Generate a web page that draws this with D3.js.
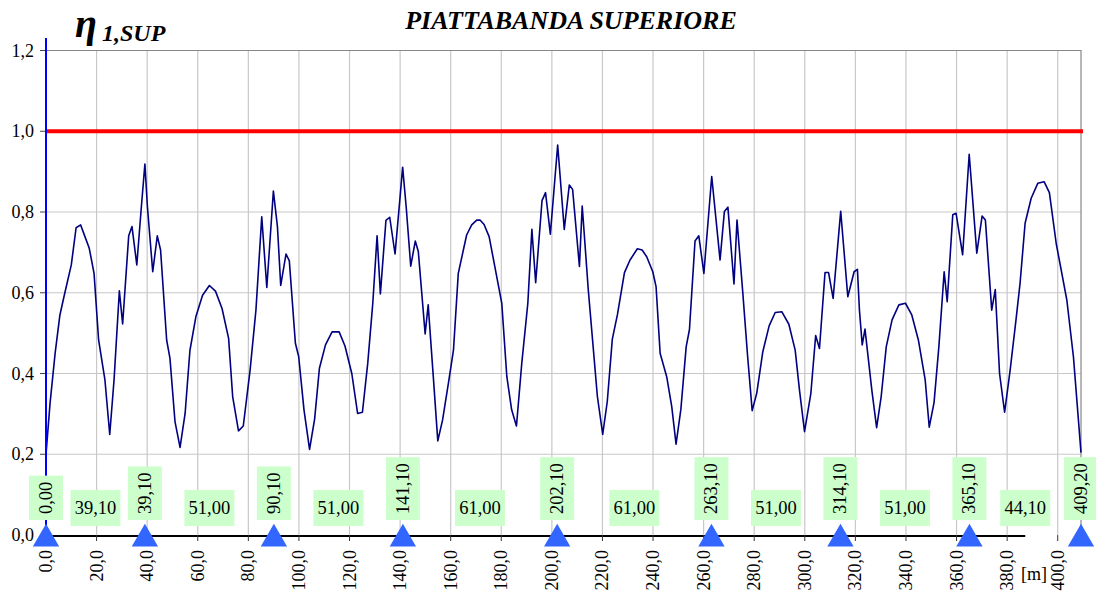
<!DOCTYPE html>
<html>
<head>
<meta charset="utf-8">
<script src="https://cdn.jsdelivr.net/npm/d3@7"></script>
<style>
  body { margin: 0; background: #fff; }
</style>
</head>
<body>
<svg id="chart"></svg>
<script>
var width = 1096,
    height = 594;
var FONT = "'Liberation Serif'";

// abscissa along the deck [m]
var xs = [0, 1.6, 3.6, 5.5, 7.1, 10.0, 11.9, 13.7, 15.4, 17.1, 19.0, 20.8, 23.3, 25.2, 26.9, 29.0, 30.3, 32.7, 34.0, 35.9,
  37.6, 39.1, 40.1, 42.2, 44.0, 45.3, 47.7, 49.0, 51.0, 53.0, 55.0, 56.9, 59.3, 61.9, 64.6, 67.0, 69.6, 72.2, 73.8, 76.1,
  78.0, 80.7, 83.0, 85.3, 87.3, 89.9, 91.5, 92.8, 94.9, 96.2, 98.6, 99.9, 102.0, 104.2, 106.2, 108.1, 110.5, 113.1, 115.9, 118.2,
  120.9, 123.2, 125.1, 127.2, 129.2, 130.9, 132.2, 134.4, 135.9, 138.0, 140.0, 141.0, 142.4, 144.2, 146.0, 147.2, 149.9, 151.1, 153.1, 154.9,
  156.8, 159.1, 161.1, 163.0, 166.3, 168.3, 170.3, 171.6, 173.2, 175.2, 178.2, 180.2, 182.2, 184.1, 186.0, 188.1, 190.5, 192.1, 193.6, 196.1,
  197.5, 199.4, 202.3, 204.9, 206.9, 208.2, 210.9, 212.0, 214.4, 218.0, 220.1, 221.9, 223.9, 225.9, 228.7, 230.9, 233.8, 235.7, 237.5, 239.9,
  241.2, 242.8, 245.4, 247.4, 249.1, 251.0, 253.1, 254.4, 256.6, 258.1, 260.1, 263.2, 266.5, 268.2, 269.6, 272.0, 273.2, 275.5, 277.4, 279.2,
  281.0, 283.4, 285.9, 288.3, 290.9, 293.7, 296.2, 297.9, 299.9, 302.4, 304.3, 305.8, 308.0, 309.4, 311.2, 314.2, 317.0, 319.5, 320.8, 321.6,
  322.7, 323.8, 326.5, 328.4, 330.2, 332.2, 334.5, 337.2, 339.8, 342.3, 344.9, 347.6, 349.2, 351.1, 353.0, 355.1, 356.3, 358.5, 359.8, 362.4,
  365.0, 368.0, 370.1, 371.4, 373.9, 375.3, 377.0, 379.0, 381.2, 383.5, 385.1, 387.1, 389.5, 392.1, 394.6, 396.7, 399.4, 403.6, 406.2, 409.2];

// eta 1,SUP values
var eta = [0.20, 0.326, 0.45, 0.545, 0.59, 0.669, 0.761, 0.768, 0.739, 0.71, 0.648, 0.483, 0.384, 0.249, 0.384, 0.605, 0.523, 0.741, 0.764, 0.669,
  0.805, 0.919, 0.813, 0.652, 0.741, 0.706, 0.483, 0.438, 0.281, 0.217, 0.301, 0.457, 0.542, 0.594, 0.618, 0.604, 0.561, 0.487, 0.343, 0.258,
  0.270, 0.409, 0.557, 0.788, 0.613, 0.852, 0.764, 0.618, 0.696, 0.679, 0.475, 0.442, 0.31, 0.212, 0.287, 0.413, 0.471, 0.503, 0.503, 0.468,
  0.40, 0.301, 0.304, 0.425, 0.574, 0.741, 0.597, 0.779, 0.787, 0.696, 0.838, 0.911, 0.813, 0.666, 0.728, 0.702, 0.498, 0.570, 0.394, 0.233,
  0.285, 0.376, 0.458, 0.648, 0.743, 0.768, 0.780, 0.780, 0.769, 0.739, 0.640, 0.574, 0.392, 0.31, 0.270, 0.425, 0.574, 0.757, 0.625, 0.828,
  0.848, 0.745, 0.966, 0.757, 0.867, 0.856, 0.665, 0.815, 0.607, 0.343, 0.249, 0.330, 0.485, 0.545, 0.650, 0.681, 0.709, 0.706, 0.689, 0.652,
  0.615, 0.450, 0.392, 0.318, 0.225, 0.311, 0.466, 0.509, 0.728, 0.741, 0.648, 0.888, 0.681, 0.801, 0.812, 0.622, 0.780, 0.599, 0.442, 0.308,
  0.351, 0.454, 0.518, 0.551, 0.553, 0.522, 0.458, 0.359, 0.256, 0.351, 0.494, 0.462, 0.650, 0.650, 0.586, 0.802, 0.590, 0.652, 0.658, 0.557,
  0.471, 0.510, 0.359, 0.266, 0.343, 0.466, 0.533, 0.570, 0.574, 0.545, 0.483, 0.384, 0.267, 0.328, 0.466, 0.652, 0.578, 0.793, 0.797, 0.694,
  0.943, 0.698, 0.790, 0.780, 0.557, 0.608, 0.400, 0.304, 0.409, 0.533, 0.623, 0.772, 0.834, 0.871, 0.875, 0.848, 0.722, 0.582, 0.442, 0.204];

// supports and span lengths [m]
var supports = [0, 39.1, 90.1, 141.1, 202.1, 263.1, 314.1, 365.1, 409.2];
var spans = [39.1, 51.0, 51.0, 61.0, 61.0, 51.0, 51.0, 44.1];

var xTicks = d3.range(0, 401, 20);
var yTicks = [0, 0.2, 0.4, 0.6, 0.8, 1.0, 1.2];
var limit = 1.0;

var comma1 = v => d3.format(".1f")(v).replace(".", ",");
var comma2 = v => d3.format(".2f")(v).replace(".", ",");

var x = d3.scaleLinear().domain([0, 409.2]).range([46, 1081]);
var y = d3.scaleLinear().domain([0, 1.2]).range([535, 50.5]);

var svg = d3.select('#chart')
  .attr('width', width)
  .attr('height', height);

svg.append('rect').attr('width', width).attr('height', height).attr('fill', 'white');

// grid
var grid = svg.append('g');
grid.selectAll('.vg')
  .data(xTicks.filter(d => d > 0))
  .join('line')
  .attr('x1', d => x(d)).attr('x2', d => x(d))
  .attr('y1', y(1.2)).attr('y2', y(0))
  .attr('stroke', '#c8c8c8').attr('stroke-width', 1.2);
grid.selectAll('.hg')
  .data(yTicks.filter(d => d > 0 && d < 1.2))
  .join('line')
  .attr('x1', x(0)).attr('x2', x(409.2))
  .attr('y1', d => y(d)).attr('y2', d => y(d))
  .attr('stroke', '#c8c8c8').attr('stroke-width', 1.2);

// plot border top/right
svg.append('path')
  .attr('d', `M${x(0)},${y(1.2)}H${x(409.2)}V${y(0)}`)
  .attr('fill', 'none')
  .attr('stroke', '#888').attr('stroke-width', 1.2);

// y ticks + labels
svg.selectAll('.yt')
  .data(yTicks)
  .join('line')
  .attr('x1', x(0) - 6).attr('x2', x(0))
  .attr('y1', d => y(d)).attr('y2', d => y(d))
  .attr('stroke', '#444');
svg.selectAll('.yl')
  .data(yTicks)
  .join('text')
  .attr('x', 34)
  .attr('y', d => y(d) + 6)
  .attr('text-anchor', 'end')
  .style('font-family', FONT)
  .attr('font-size', 18)
  .text(d => comma1(d));

// limit line
svg.append('line')
  .attr('x1', x(0)).attr('x2', x(409.2) + 2)
  .attr('y1', y(limit)).attr('y2', y(limit))
  .attr('stroke', '#ff0000').attr('stroke-width', 4);

// eta curve
var line = d3.line()
  .x((d, i) => x(xs[i]))
  .y(d => y(d));
svg.append('path')
  .datum(eta)
  .attr('d', line)
  .attr('fill', 'none')
  .attr('stroke', '#000080')
  .attr('stroke-width', 1.6)
  .attr('stroke-linejoin', 'round');

// x axis line (black) and ticks
svg.append('line')
  .attr('x1', x(0)).attr('x2', x((supports[7] + supports[8]) / 2))
  .attr('y1', y(0) + 1).attr('y2', y(0) + 1)
  .attr('stroke', '#000').attr('stroke-width', 2);
svg.selectAll('.xt')
  .data(xTicks)
  .join('line')
  .attr('x1', d => x(d)).attr('x2', d => x(d))
  .attr('y1', y(0)).attr('y2', y(0) + 6)
  .attr('stroke', '#333');
svg.selectAll('.xl')
  .data(xTicks)
  .join('text')
  .attr('transform', d => `translate(${x(d) + 6},550) rotate(-90)`)
  .attr('text-anchor', 'end')
  .style('font-family', FONT)
  .attr('font-size', 18)
  .text(d => comma1(d));

svg.append('text')
  .attr('x', 1021).attr('y', 580)
  .style('font-family', FONT)
  .attr('font-size', 18)
  .text('[m]');

// blue y axis
svg.append('line')
  .attr('x1', x(0)).attr('x2', x(0))
  .attr('y1', 38).attr('y2', y(0))
  .attr('stroke', '#0000ff').attr('stroke-width', 2);

// span labels
var mids = spans.map((s, i) => (supports[i] + supports[i + 1]) / 2);
var spanG = svg.selectAll('.span')
  .data(spans)
  .join('g')
  .attr('transform', (d, i) => `translate(${x(mids[i])},508)`);
spanG.append('rect')
  .attr('x', -25).attr('y', -18).attr('width', 50).attr('height', 36)
  .attr('fill', '#ccffcc');
spanG.append('text')
  .attr('text-anchor', 'middle')
  .attr('y', 6)
  .style('font-family', FONT)
  .attr('font-size', 18.5)
  .text(d => comma2(d));

// support labels (rotated)
var supG = svg.selectAll('.sup')
  .data(supports)
  .join('g')
  .attr('transform', d => `translate(${x(d)},520) rotate(-90)`);
supG.append('text')
  .attr('x', 6)
  .attr('y', 6)
  .style('font-family', FONT)
  .attr('font-size', 18.5)
  .text(d => comma2(d))
  .each(function() {
    var w = this.getComputedTextLength();
    d3.select(this.parentNode).insert('rect', 'text')
      .attr('x', 0).attr('y', -17).attr('width', w + 12).attr('height', 34)
      .attr('fill', '#ccffcc');
  });

// support triangles
svg.selectAll('.tri')
  .data(supports)
  .join('path')
  .attr('d', d3.symbol(d3.symbolTriangle, 300))
  .attr('transform', d => `translate(${x(d)},539)`)
  .attr('fill', '#3366ff');

// titles
svg.append('text')
  .attr('x', 571).attr('y', 28.5)
  .attr('text-anchor', 'middle')
  .style('font-family', FONT)
  .attr('font-size', 26)
  .attr('font-weight', 'bold')
  .attr('font-style', 'italic')
  .text('PIATTABANDA SUPERIORE');

svg.append('text')
  .attr('x', 75).attr('y', 37)
  .style('font-family', FONT)
  .attr('font-size', 40)
  .attr('font-weight', 'bold')
  .attr('font-style', 'italic')
  .text('η');
svg.append('text')
  .attr('x', 102).attr('y', 41)
  .style('font-family', FONT)
  .attr('font-size', 24)
  .attr('font-weight', 'bold')
  .attr('font-style', 'italic')
  .text('1,SUP');
</script>
</body>
</html>
